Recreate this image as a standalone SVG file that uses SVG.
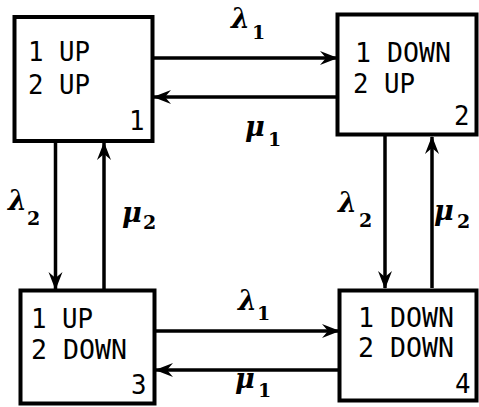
<svg xmlns="http://www.w3.org/2000/svg" width="479" height="407" viewBox="0 0 479 407">
<style>
.box{fill:#fff;stroke:#000;stroke-width:4}
.t{font-family:"DejaVu Sans Mono","Liberation Mono",monospace;font-size:26px;fill:#000}
.g{font-family:"DejaVu Serif","Liberation Serif",serif;font-style:italic;font-weight:bold;font-size:27px;fill:#000}
.s{font-family:"DejaVu Serif","Liberation Serif",serif;font-weight:bold;font-size:19px;fill:#000}
.c{stroke:#000;stroke-width:3.5;fill:none;marker-end:url(#ah)}
</style>
<defs>
<marker id="ah" viewBox="0 0 18 16" refX="17" refY="8" markerWidth="18" markerHeight="16" orient="auto" markerUnits="userSpaceOnUse">
<path d="M0,1 L18,8 L0,15 L6,8 z" fill="#000"/>
</marker>
</defs>
<rect width="479" height="407" fill="#fff"/>
<g id="connectors">
<line class="c" x1="153" y1="58" x2="337" y2="58"/>
<line class="c" x1="337" y1="97" x2="154" y2="97"/>
<line class="c" x1="155" y1="331" x2="339" y2="331"/>
<line class="c" x1="339" y1="370" x2="156" y2="370"/>
<line class="c" x1="55.5" y1="142" x2="55.5" y2="289"/>
<line class="c" x1="104" y1="289" x2="104" y2="143"/>
<line class="c" x1="385" y1="136" x2="385" y2="288"/>
<line class="c" x1="432" y1="288" x2="432" y2="137"/>
<g id="labels">
<text class="g" x="231" y="28">λ</text><text class="s" x="252" y="39">1</text>
<text class="g" x="245" y="136">μ</text><text class="s" x="268" y="146">1</text>
<text class="g" x="238" y="310">λ</text><text class="s" x="257" y="320">1</text>
<text class="g" x="235" y="388">μ</text><text class="s" x="258" y="397">1</text>
<text class="g" x="8" y="210">λ</text><text class="s" x="27" y="225">2</text>
<text class="g" x="122" y="222">μ</text><text class="s" x="143" y="229">2</text>
<text class="g" x="338" y="212">λ</text><text class="s" x="359" y="227">2</text>
<text class="g" x="434" y="220">μ</text><text class="s" x="457" y="228">2</text>
</g>
</g>
<g id="node1">
<rect class="box" x="14.5" y="17" width="138" height="124"/>
<text class="t" x="28" y="61" textLength="62" lengthAdjust="spacingAndGlyphs">1 UP</text>
<text class="t" x="28" y="94" textLength="62" lengthAdjust="spacingAndGlyphs">2 UP</text>
<text class="t" x="129" y="130" textLength="15.5" lengthAdjust="spacingAndGlyphs">1</text>
</g>
<g id="node2">
<rect class="box" x="337.5" y="14.5" width="139" height="120"/>
<text class="t" x="355" y="62" textLength="96" lengthAdjust="spacingAndGlyphs">1 DOWN</text>
<text class="t" x="353" y="93" textLength="62" lengthAdjust="spacingAndGlyphs">2 UP</text>
<text class="t" x="454" y="125" textLength="15.5" lengthAdjust="spacingAndGlyphs">2</text>
</g>
<g id="node3">
<rect class="box" x="20.5" y="290.5" width="134" height="113"/>
<text class="t" x="31" y="328" textLength="62" lengthAdjust="spacingAndGlyphs">1 UP</text>
<text class="t" x="31" y="359" textLength="96" lengthAdjust="spacingAndGlyphs">2 DOWN</text>
<text class="t" x="131" y="394" textLength="15.5" lengthAdjust="spacingAndGlyphs">3</text>
</g>
<g id="node4">
<rect class="box" x="339.5" y="290.5" width="137" height="110"/>
<text class="t" x="358" y="327" textLength="96" lengthAdjust="spacingAndGlyphs">1 DOWN</text>
<text class="t" x="358" y="357" textLength="96" lengthAdjust="spacingAndGlyphs">2 DOWN</text>
<text class="t" x="455" y="393" textLength="15.5" lengthAdjust="spacingAndGlyphs">4</text>
</g>
</svg>
